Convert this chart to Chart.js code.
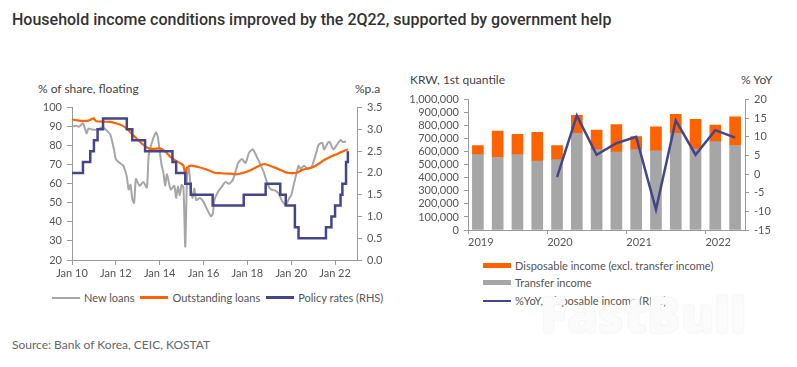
<!DOCTYPE html>
<html>
<head>
<meta charset="utf-8">
<script src="https://cdn.jsdelivr.net/npm/chart.js@4.4.0/dist/chart.umd.min.js"></script>
<style>
  body { margin: 0; background: #fff; }
  #wrap { position: relative; width: 797px; height: 367px; overflow: hidden; font-family: Lato, "Noto Sans", sans-serif; color: #555; }
  .abs { position: absolute; white-space: nowrap; }
  #title { left: 12px; top: 10px; font-family: Roboto, sans-serif; font-weight: 500; font-size: 16px; color: #333; }
  .unit { font-size: 12px; color: #444; }
  .leg { font-size: 11px; color: #555; display: flex; align-items: center; }
  .sw { display: inline-block; width: 28px; margin-right: 4px; }
  #src { left: 12px; top: 337px; font-size: 12px; color: #666; }
  #wm { left: 540px; top: 280px; font-family: "Open Sans", sans-serif; font-weight: 800; font-size: 50px; color: #fbfbfb; text-shadow: 0 0 2px #e4e4e4; }
  canvas { position: absolute; }
</style>
</head>
<body>
<div id="wrap">
  <div id="title" class="abs">Household income conditions improved by the 2Q22, supported by government help</div>

  <div class="abs unit" style="left:38px; top:81px;">% of share, floating</div>
  <div class="abs unit" style="left:355px; top:81px;">%p.a</div>
  <canvas id="left" width="400" height="190" style="left:0; top:96px;"></canvas>
  <div class="abs leg" style="left:52px; top:291px;">
    <span class="sw" style="height:2px; background:#a6a6a6;"></span><span style="margin-right:6px;">New loans</span>
    <span class="sw" style="height:3px; background:#ff6200;"></span><span style="margin-right:6px;">Outstanding loans</span>
    <span class="sw" style="height:3px; background:#45458c;"></span><span>Policy rates (RHS)</span>
  </div>

  <div class="abs unit" style="left:410px; top:72px;">KRW, 1st quantile</div>
  <div class="abs unit" style="left:741px; top:72px;">% YoY</div>
  <canvas id="right" width="397" height="166" style="left:400px; top:88px;"></canvas>
  <div class="abs leg" style="left:483px; top:259px;"><span class="sw" style="height:5px; background:#ff6200;"></span>Disposable income (excl. transfer income)</div>
  <div class="abs leg" style="left:483px; top:276px;"><span class="sw" style="height:5px; background:#a6a6a6;"></span>Transfer income</div>
  <div class="abs leg" style="left:483px; top:294px;"><span class="sw" style="height:2px; background:#45458c;"></span>%YoY, Disposable income (RHS)</div>

  <div id="wm" class="abs">FastBull</div>
  <div id="src" class="abs">Source: Bank of Korea, CEIC, KOSTAT</div>
</div>

<script>
// ---- left chart data (monthly readings) ----
const newLoanDates = ['2010-01','2010-03','2010-05','2010-07','2010-09','2010-10','2010-12','2011-03','2011-05','2011-07','2011-09','2011-10','2011-12',
  '2012-01','2012-03','2012-05','2012-07','2012-08','2012-09','2012-10','2012-11','2012-12','2013-02','2013-04','2013-06','2013-07','2013-09','2013-11','2013-12',
  '2014-02','2014-03','2014-04','2014-05','2014-07','2014-09','2014-10','2014-11','2014-12','2015-01','2015-02','2015-03','2015-04','2015-05','2015-06','2015-07',
  '2015-08','2015-09','2015-11','2016-01','2016-03','2016-05','2016-06','2016-07','2016-09','2016-11','2017-01','2017-03','2017-05','2017-07','2017-08','2017-10',
  '2017-12','2018-02','2018-04','2018-06','2018-08','2018-10','2018-12','2019-02','2019-04','2019-06','2019-08','2019-10','2019-12','2020-01','2020-03','2020-05',
  '2020-06','2020-08','2020-10','2020-12','2021-02','2021-04','2021-06','2021-07','2021-09','2021-10','2021-12','2022-02','2022-04','2022-05','2022-07'];
const newLoanValues = [90, 90.5, 90, 91.8, 86.5, 89, 88.5, 88.5, 89.5, 89, 87, 85.8, 78,
  73, 71, 69.6, 63.6, 57, 59.5, 52, 50, 62.5, 59, 61, 58, 75, 82.5, 87, 84.5,
  70, 66, 59, 65, 57, 59, 52.5, 58.5, 54, 59.5, 58, 27, 64.5, 68, 57.5, 52.5,
  57.5, 51.5, 52.5, 50.5, 46.5, 43, 44, 51.5, 56, 58.5, 61, 60, 62, 68, 71, 73,
  71, 76.5, 78, 74.5, 70.5, 66, 60, 57, 56.5, 55, 51, 49, 52.5, 54, 62, 69.5,
  68, 69.5, 68, 68.5, 74, 80.5, 81.5, 78, 81.5, 82, 78, 80.5, 83, 82, 82.2];

const outstandingDates = ['2010-01','2010-04','2010-07','2010-10','2011-01','2011-02','2011-06','2011-10','2012-01','2012-04','2012-07','2012-10',
  '2013-01','2013-04','2013-07','2013-10','2014-01','2014-04','2014-07','2014-10','2015-01','2015-02','2015-03','2015-04','2015-06','2015-10',
  '2016-01','2016-04','2016-07','2016-10','2017-01','2017-04','2017-07','2017-10','2018-01','2018-04','2018-07','2018-10','2019-01','2019-04',
  '2019-07','2019-10','2020-01','2020-04','2020-07','2020-10','2021-01','2021-04','2021-07','2021-10','2022-01','2022-04','2022-08'];
const outstandingValues = [93.8, 93.3, 93.0, 93.2, 94.3, 93.0, 92.6, 92.5, 91.8, 90.8, 89.0, 86.0,
  83.2, 80.5, 78.6, 78.3, 78.6, 77.0, 74.0, 72.0, 70.4, 69.5, 65.5, 68.5, 69.5, 68.8,
  68.0, 67.0, 65.8, 65.6, 65.4, 65.3, 65.0, 65.6, 66.5, 67.8, 69.2, 70.4, 69.6, 68.5,
  67.3, 66.0, 65.6, 65.8, 67.3, 68.0, 68.8, 70.5, 72.5, 74.0, 75.2, 76.5, 78.1];

// policy rate: date each new level takes effect
const policyDates = ['2010-01','2010-07','2010-11','2011-01','2011-03','2011-06','2012-07','2012-10','2013-05','2014-08','2014-10','2015-03','2015-06',
  '2016-06','2017-11','2018-11','2019-07','2019-10','2020-03','2020-05','2021-08','2021-11','2022-01','2022-04','2022-05','2022-07','2022-08'];
const policyValues = [2.0, 2.25, 2.5, 2.75, 3.0, 3.25, 3.0, 2.75, 2.5, 2.25, 2.0, 1.75, 1.5,
  1.25, 1.5, 1.75, 1.5, 1.25, 0.75, 0.5, 0.75, 1.0, 1.25, 1.5, 1.75, 2.25, 2.5];

const leftXTicks = [2010, 2012, 2014, 2016, 2018, 2020, 2022];

// ---- right chart data (quarterly) ----
const quarters = ['1Q19','2Q19','3Q19','4Q19','1Q20','2Q20','3Q20','4Q20','1Q21','2Q21','3Q21','4Q21','1Q22','2Q22'];
const transferIncome = [578000, 558000, 578000, 528000, 540000, 741000, 616000, 598000, 616000, 608000, 741000, 620000, 678000, 648000];
const dispExTransfer = [70000, 201000, 156000, 221000, 108000, 138000, 150000, 211000, 100000, 183000, 146000, 229000, 126000, 219000];
const yoyDisposable = [null, null, null, null, -0.8, 15.7, 5.2, 8.3, 10.0, -9.5, 14.4, 5.2, 11.8, 9.8];
const yearLabels = ['2019', '2020', '2021', '2022'];

function toYear(d) {
  const [y, m] = d.split('-').map(Number);
  return y + (m - 1) / 12;
}
function pairs(dates, vals) {
  return dates.map((d, i) => ({ x: toYear(d), y: vals[i] }));
}

Chart.defaults.font.family = 'Lato, "Noto Sans", sans-serif';
Chart.defaults.font.size = 11;
Chart.defaults.color = '#555';

const axisCol = '#9a9a9a';
function axisGrid(len) {
  return { drawOnChartArea: false, drawTicks: true, tickLength: len, color: axisCol };
}

new Chart(document.getElementById('left'), {
  type: 'line',
  data: {
    datasets: [
      { label: 'Policy rates (RHS)', data: pairs(policyDates, policyValues), yAxisID: 'y1',
        borderColor: '#45458c', borderWidth: 2.5, stepped: true, pointRadius: 0, order: 0 },
      { label: 'Outstanding loans', data: pairs(outstandingDates, outstandingValues), yAxisID: 'y',
        borderColor: '#ff6200', borderWidth: 2.2, pointRadius: 0, tension: 0.3, order: 1 },
      { label: 'New loans', data: pairs(newLoanDates, newLoanValues), yAxisID: 'y',
        borderColor: '#a6a6a6', borderWidth: 2, pointRadius: 0, tension: 0.2, order: 2 }
    ]
  },
  options: {
    responsive: false,
    animation: false,
    devicePixelRatio: 1,
    layout: { padding: { top: 8 } },
    plugins: { legend: { display: false }, tooltip: { enabled: false } },
    scales: {
      x: {
        type: 'linear', min: 2010, max: 2023,
        afterBuildTicks: ax => { ax.ticks = leftXTicks.map(v => ({ value: v })); },
        afterFit: s => { s.height = 26; },
        ticks: { padding: 2, maxRotation: 0, callback: v => 'Jan ' + String(v).slice(2) },
        grid: axisGrid(5),
        border: { color: axisCol }
      },
      y: {
        position: 'left', min: 20, max: 100,
        afterFit: s => { s.width = 72; },
        ticks: { stepSize: 10, padding: 5, autoSkip: false },
        grid: axisGrid(5),
        border: { color: axisCol }
      },
      y1: {
        position: 'right', min: 0, max: 3.5,
        afterFit: s => { s.width = 43; },
        ticks: { stepSize: 0.5, padding: 5, autoSkip: false, callback: v => v.toFixed(1) },
        grid: axisGrid(5),
        border: { color: axisCol }
      }
    }
  }
});

new Chart(document.getElementById('right'), {
  type: 'bar',
  data: {
    datasets: [
      { type: 'line', label: '%YoY, Disposable income (RHS)', yAxisID: 'y1', order: 0,
        data: quarters.map((q, i) => ({ x: i + 0.5, y: yoyDisposable[i] })).filter(p => p.y !== null),
        borderColor: '#45458c', borderWidth: 2.5, pointRadius: 0, tension: 0 },
      { label: 'Transfer income', stack: 'inc', order: 1, backgroundColor: '#a6a6a6',
        data: quarters.map((q, i) => ({ x: i + 0.5, y: transferIncome[i] })), barThickness: 11 },
      { label: 'Disposable income (excl. transfer income)', stack: 'inc', order: 1, backgroundColor: '#ff6200',
        data: quarters.map((q, i) => ({ x: i + 0.5, y: dispExTransfer[i] })), barThickness: 11 }
    ]
  },
  options: {
    responsive: false,
    animation: false,
    devicePixelRatio: 1,
    layout: { padding: { top: 9 } },
    plugins: { legend: { display: false }, tooltip: { enabled: false } },
    scales: {
      x: {
        type: 'linear', min: 0, max: quarters.length, offset: false,
        afterBuildTicks: ax => { ax.ticks = yearLabels.map((y, i) => ({ value: i * 4 })); },
        afterFit: s => { s.height = 24; },
        ticks: { padding: 2, align: 'start', maxRotation: 0, autoSkip: false, callback: v => yearLabels[v / 4] },
        grid: { ...axisGrid(4), offset: false },
        border: { color: axisCol }
      },
      y: {
        position: 'left', stacked: true, min: 0, max: 1000000,
        afterFit: s => { s.width = 68; },
        ticks: { stepSize: 100000, padding: 5, autoSkip: false, callback: v => v.toLocaleString('en-US') },
        grid: axisGrid(4),
        border: { color: axisCol }
      },
      y1: {
        position: 'right', min: -15, max: 20,
        afterFit: s => { s.width = 52; },
        ticks: { stepSize: 5, padding: 5, autoSkip: false },
        grid: axisGrid(4),
        border: { color: axisCol }
      }
    }
  }
});
</script>
</body>
</html>
